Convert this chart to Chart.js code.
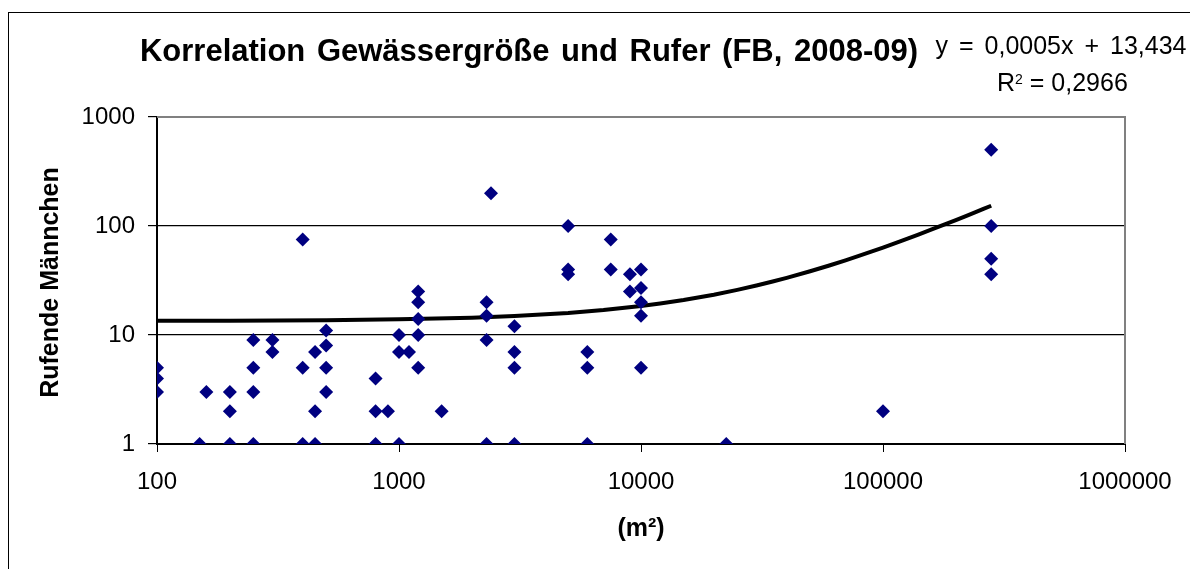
<!DOCTYPE html>
<html>
<head>
<meta charset="utf-8">
<script src="https://cdn.jsdelivr.net/npm/chart.js@4.4.1/dist/chart.umd.min.js"></script>
<style>
  html, body { margin: 0; padding: 0; background: #fff; }
  #wrap { position: absolute; left: 0; top: 0; width: 1190px; height: 569px; }
  #frame { position: absolute; left: 8px; top: 12px; width: 1200px; height: 600px; border: 1.5px solid #000; box-sizing: border-box; }
  canvas { position: absolute; left: 0; top: 0; }
</style>
</head>
<body>
<div id="wrap">
  <div id="frame"></div>
  <canvas id="c" width="1190" height="569"></canvas>
</div>
<script>
// Gewässergröße (m²) and Rufende Männchen
const areaM2 = [
  100, 100, 100, 150, 160, 200, 200, 200, 250, 250, 250, 250,
  300, 300, 400, 400, 400, 450, 450, 450, 500, 500, 500, 500,
  800, 800, 800, 900, 1000, 1000, 1000, 1100, 1200, 1200, 1200, 1200, 1200,
  1500, 2300, 2300, 2300, 2300, 2400, 3000, 3000, 3000, 3000,
  5000, 5000, 5000, 6000, 6000, 6000, 7500, 7500, 9000, 9000,
  10000, 10000, 10000, 10000, 10000, 22500, 100000,
  280000, 280000, 280000, 280000
];
const callers = [
  5, 4, 3, 1, 3, 3, 2, 1, 9, 5, 3, 1,
  9, 7, 75, 5, 1, 7, 2, 1, 11, 8, 5, 3,
  4, 2, 1, 2, 10, 7, 1, 7, 25, 20, 14, 10, 5,
  2, 20, 15, 9, 1, 200, 12, 7, 5, 1,
  100, 40, 36, 7, 5, 1, 75, 40, 36, 25,
  40, 27, 20, 15, 5, 1, 2,
  500, 100, 50, 36
];
// linear trendline as drawn (sampled along the x range)
const trendX = [100, 200, 500, 1000, 2000, 3000, 5000, 7000, 10000, 12000, 15000, 20000, 25000, 30000,
  35000, 40000, 50000, 60000, 70000, 80000, 100000, 120000, 140000, 160000, 180000, 200000, 220000, 240000, 260000, 280000];
const trendY = [13.48, 13.53, 13.68, 13.93, 14.43, 14.93, 15.93, 16.93, 18.43, 19.43, 20.93, 23.43, 25.93, 28.43,
  30.93, 33.43, 38.43, 43.43, 48.43, 53.43, 63.43, 73.43, 83.43, 93.43, 103.43, 113.43, 123.43, 133.43, 143.43, 153.43];
const xTicks = [100, 1000, 10000, 100000, 1000000];
const yTicks = [1, 10, 100, 1000];

const titleText = 'Korrelation Gewässergröße und Rufer (FB, 2008-09)';
const eqText = 'y = 0,0005x + 13,434';
const r2Base = 'R';
const r2Sup = '2';
const r2Rest = ' = 0,2966';
const yTitle = 'Rufende Männchen';
const xTitle = '(m²)';

const FONT = '"Liberation Sans", Arial, sans-serif';

const textPlugin = {
  id: 'texts',
  afterDraw(chart) {
    const ctx = chart.ctx;
    const a = chart.chartArea;
    ctx.save();
    ctx.fillStyle = '#000';
    ctx.textBaseline = 'alphabetic';
    // title
    ctx.font = 'bold 31px ' + FONT;
    ctx.wordSpacing = '3px';
    ctx.textAlign = 'center';
    ctx.fillText(titleText, 529, 61);
    // equation
    ctx.font = '25px ' + FONT;
    ctx.wordSpacing = '4px';
    ctx.textAlign = 'center';
    ctx.fillText(eqText, 1061, 54);
    // R²
    ctx.textAlign = 'left';
    let rx = 997;
    ctx.fillText(r2Base, rx, 91);
    rx += ctx.measureText(r2Base).width;
    ctx.font = '14px ' + FONT;
    ctx.fillText(r2Sup, rx, 84);
    rx += ctx.measureText(r2Sup).width;
    ctx.font = '25px ' + FONT;
    ctx.wordSpacing = '2px';
    ctx.fillText(r2Rest, rx, 91);
    ctx.wordSpacing = '0px';
    // axis titles
    ctx.font = 'bold 25px ' + FONT;
    ctx.textAlign = 'center';
    ctx.textBaseline = 'middle';
    ctx.fillText(xTitle, (a.left + a.right) / 2, 529);
    ctx.translate(51, (a.top + a.bottom) / 2 + 2);
    ctx.rotate(-Math.PI / 2);
    ctx.fillText(yTitle, 0, 0);
    ctx.restore();
  }
};

const plotBorder = {
  id: 'plotBorder',
  beforeDatasetsDraw(chart) {
    const ctx = chart.ctx, a = chart.chartArea;
    ctx.save();
    ctx.strokeStyle = '#808080';
    ctx.lineWidth = 2;
    ctx.beginPath();
    ctx.moveTo(a.left, a.top);
    ctx.lineTo(a.right, a.top);
    ctx.lineTo(a.right, a.bottom);
    ctx.stroke();
    ctx.restore();
  }
};

new Chart(document.getElementById('c'), {
  type: 'scatter',
  data: {
    datasets: [
      {
        label: 'Rufer',
        data: areaM2.map((x, i) => ({ x: x, y: callers[i] })),
        pointStyle: 'rectRot',
        pointRadius: 7,
        pointHoverRadius: 7,
        backgroundColor: '#000080',
        borderColor: '#000080',
        borderWidth: 0,
        order: 1
      },
      {
        label: 'Trend',
        type: 'line',
        data: trendX.map((x, i) => ({ x: x, y: trendY[i] })),
        borderColor: '#000',
        borderWidth: 4,
        pointRadius: 0,
        fill: false,
        tension: 0,
        order: 2
      }
    ]
  },
  options: {
    responsive: false,
    animation: false,
    events: [],
    layout: { padding: { left: 0, right: 65, top: 117, bottom: 0 } },
    plugins: { legend: { display: false }, tooltip: { enabled: false }, title: { display: false } },
    scales: {
      x: {
        type: 'logarithmic',
        min: 100, max: 1000000,
        afterBuildTicks(s) { s.ticks = xTicks.map(v => ({ value: v })); },
        afterFit(s) { s.height = 125; },
        grid: { display: true, drawOnChartArea: false, drawTicks: true, tickLength: 8, tickColor: '#000', color: '#000' },
        border: { color: '#000', width: 2 },
        ticks: { color: '#000', font: { family: FONT, size: 24 }, padding: 16, maxRotation: 0, autoSkip: false,
          callback: v => String(v) }
      },
      y: {
        type: 'logarithmic',
        min: 1, max: 1000,
        afterBuildTicks(s) { s.ticks = yTicks.map(v => ({ value: v })); },
        afterFit(s) { s.width = 157; },
        grid: { color: '#000', lineWidth: 1.2, drawTicks: true, tickLength: 9, tickColor: '#000' },
        border: { color: '#000', width: 2 },
        ticks: { color: '#000', font: { family: FONT, size: 24 }, padding: 13, autoSkip: false,
          callback: v => String(v) }
      }
    }
  },
  plugins: [textPlugin, plotBorder]
});
</script>
</body>
</html>
